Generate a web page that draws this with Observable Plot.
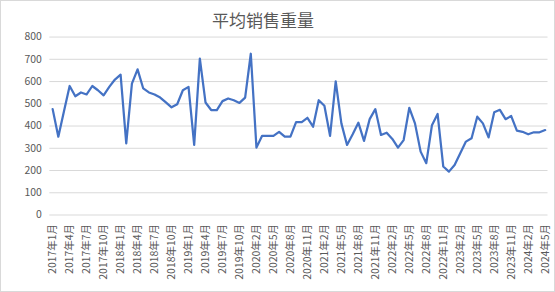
<!DOCTYPE html>
<html>
<head>
<meta charset="utf-8">
<script src="https://cdn.jsdelivr.net/npm/d3@7"></script>
<script src="https://cdn.jsdelivr.net/npm/@observablehq/plot@0.6"></script>
<style>
  html, body { margin: 0; padding: 0; background: #fff; }
  #chart { position: relative; width: 553px; height: 290px; border: 1px solid #d9d9d9; background: #fff; overflow: hidden; }
  #title { position: absolute; left: 0; width: 524px; top: 6px; text-align: center; font-family: "Noto Sans CJK SC", sans-serif; font-size: 17px; color: #595959; }
  #chart svg { position: absolute; left: -1px; top: -1px; }
</style>
</head>
<body>
<div id="chart"><div id="title">平均销售重量</div></div>
<script>
// Categories: monthly, 2017年1月 … 2024年5月 (2020年1月 absent in the source)
const years = [2017, 2018, 2019, 2020, 2021, 2022, 2023, 2024];
const missingMonths = ["2020年1月"];
const lastMonth = "2024年5月";
const months = [];
for (const y of years) {
  for (let m = 1; m <= 12; m++) {
    const lab = `${y}年${m}月`;
    if (missingMonths.includes(lab)) continue;
    months.push(lab);
    if (lab === lastMonth) break;
  }
  if (months[months.length - 1] === lastMonth) break;
}
// Average sales weight per month
const weights = [476,352,467,580,534,551,542,580,561,538,576,609,631,
  322,591,655,569,551,542,528,506,484,498,561,576,
  315,703,506,472,472,512,524,516,504,528,725,
  303,356,356,356,374,352,352,418,418,437,397,516,
  491,356,601,412,315,363,415,333,431,476,360,370,
  342,303,337,482,412,285,233,404,454,218,195,225,
  278,330,345,442,412,349,462,473,431,445,379,374,
  363,372,372,382];
const yTicks = [0,100,200,300,400,500,600,700,800];
const xTickLabels = months.filter((d, i) => i % 3 === 0);

const data = months.map((m, i) => ({month: m, value: weights[i]}));

const chart = Plot.plot({
  width: 555,
  height: 292,
  marginTop: 36.7,
  marginBottom: 76.7,
  marginLeft: 49.5,
  marginRight: 5.5,
  style: {fontFamily: "'Noto Sans CJK SC', sans-serif", fontSize: "10.5px", color: "#595959", background: "transparent"},
  x: {type: "point", domain: months, padding: 0.5},
  y: {domain: [0, 800]},
  marks: [
    Plot.gridY(yTicks, {stroke: "#d9d9d9", strokeOpacity: 1, strokeWidth: 1}),
    Plot.axisY(yTicks, {tickSize: 0, tickPadding: 8, label: null, fill: "#595959"}),
    Plot.axisX(xTickLabels, {tickSize: 0, tickPadding: 9, tickRotate: -90, label: null, fill: "#595959"}),
    Plot.line(data, {x: "month", y: "value", stroke: "#4472C4", strokeWidth: 2.25, strokeLinejoin: "round"})
  ]
});
document.getElementById("chart").appendChild(chart);
</script>
</body>
</html>
